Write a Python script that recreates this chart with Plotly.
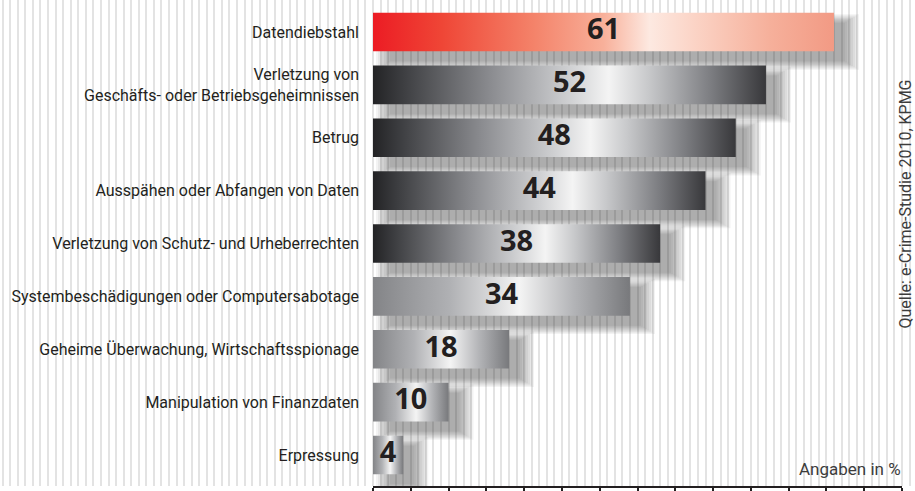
import plotly.graph_objects as go

# ---------------- data ----------------
categories = [
    "Datendiebstahl",
    "Verletzung von<br>Geschäfts- oder Betriebsgeheimnissen",
    "Betrug",
    "Ausspähen oder Abfangen von Daten",
    "Verletzung von Schutz- und Urheberrechten",
    "Systembeschädigungen oder Computersabotage",
    "Geheime Überwachung, Wirtschaftsspionage",
    "Manipulation von Finanzdaten",
    "Erpressung",
]
values = [61, 52, 48, 44, 38, 34, 18, 10, 4]
ruler_ticks = [0, 5, 10, 15, 20, 25, 30, 35, 40, 45, 50, 55, 60, 65, 70]
source_text = "Quelle: e-Crime-Studie 2010, KPMG"
unit_text = "Angaben in %"

# ---------------- geometry / style ----------------
W, H = 915, 491
X0_PX = 373.0          # pixel of value 0
PX_PER_UNIT = 7.557    # pixels per percent
BOTTOM_PX = 5          # space under ruler line
PLOT_H = H - BOTTOM_PX
ROW0_PX, ROW_STEP = 32.0, 52.875
x_range = [-X0_PX / PX_PER_UNIT, (W - X0_PX) / PX_PER_UNIT]
y_range = [(PLOT_H - ROW0_PX) / ROW_STEP, -ROW0_PX / ROW_STEP]
HALF = 0.365

LABEL_FONT = "Roboto, Arial, sans-serif"
VALUE_FONT = "Open Sans, Arial, sans-serif"
TXT = "#231f20"

red_scale = [[0, "#ec1c24"], [0.15, "#ef4636"], [0.35, "#f4836a"], [0.5, "#f8b09a"],
             [0.6, "#fde9e1"], [0.7, "#fbd3c5"], [0.86, "#f6b09b"], [1, "#f29a84"]]
dark_scale = [[0, "#232325"], [0.07, "#3b3c3f"], [0.3, "#8b8c90"], [0.5, "#cfd0d2"],
              [0.6, "#f4f4f4"], [0.7, "#c8c9cb"], [0.86, "#7c7d81"], [1, "#38383b"]]
light_scale = [[0, "#838487"], [0.3, "#b0b1b4"], [0.57, "#f4f4f4"], [0.78, "#b3b4b7"],
               [1, "#78797c"]]


def scale_for(i):
    if i == 0:
        return red_scale
    if i <= 4:
        return dark_scale
    return light_scale


fig = go.Figure()

# shadows (layered translucent rectangles to imitate blur)
dx_u = 11 / PX_PER_UNIT
dy_u = 10 / ROW_STEP
for i, v in enumerate(values):
    for r in [0, 2, 4, 6, 8, 10, 12, 14]:
        rx = r / PX_PER_UNIT
        ry = r / ROW_STEP
        x0, x1 = dx_u - rx + 0.8, v + dx_u + rx
        y0, y1 = i - HALF + dy_u - ry * 0.6, i + HALF + dy_u + ry * 0.6
        fig.add_trace(go.Scatter(
            x=[x0, x1, x1, x0, x0], y=[y0, y0, y1, y1, y0],
            fill="toself", mode="none", fillcolor="rgba(35,35,35,0.055)",
            hoverinfo="skip", showlegend=False))

# bars with horizontal gradients
for i, v in enumerate(values):
    fig.add_trace(go.Scatter(
        x=[0, v, v, 0, 0], y=[i - HALF, i - HALF, i + HALF, i + HALF, i - HALF],
        fill="toself", mode="none",
        fillgradient=dict(type="horizontal", colorscale=scale_for(i)),
        hoverinfo="skip", showlegend=False, name=categories[i]))

# value labels
fig.add_trace(go.Scatter(
    x=[v / 2 for v in values], y=list(range(len(values))),
    text=[str(v) for v in values], mode="text", textposition="middle center",
    textfont=dict(family=VALUE_FONT, size=29, color=TXT, weight="bold"),
    hoverinfo="skip", showlegend=False))

# ruler axis carrier
fig.add_trace(go.Scatter(x=[ruler_ticks[0]], y=[0], xaxis="x2", yaxis="y",
                         mode="markers", marker=dict(opacity=0),
                         hoverinfo="skip", showlegend=False))

fig.update_layout(
    width=W, height=H,
    margin=dict(l=0, r=0, t=0, b=0, autoexpand=False),
    paper_bgcolor="white", plot_bgcolor="rgba(0,0,0,0)",
    showlegend=False,
    xaxis=dict(domain=[0, 1], range=x_range, showgrid=True, gridcolor="#e3e3e3",
               gridwidth=2, dtick=1, tick0=0, showticklabels=False, ticks="",
               zeroline=False, showline=False, fixedrange=True, automargin=False),
    xaxis2=dict(domain=[X0_PX / W, (X0_PX + 70 * PX_PER_UNIT) / W],
                range=[ruler_ticks[0], ruler_ticks[-1]], anchor="y",
                tickvals=ruler_ticks, ticks="outside", ticklen=6, tickwidth=1.5,
                tickcolor=TXT, showline=True, linecolor=TXT, linewidth=2,
                showticklabels=False, showgrid=False, zeroline=False, automargin=False),
    yaxis=dict(domain=[BOTTOM_PX / H, 1], range=y_range, anchor="free",
               position=X0_PX / W, tickvals=list(range(len(categories))),
               ticktext=categories, ticks="", showgrid=False, zeroline=False,
               showline=False, ticklabelstandoff=14, automargin=False,
               tickfont=dict(family=LABEL_FONT, size=16, color=TXT)),
    annotations=[
        dict(text=unit_text, xref="paper", yref="paper", x=903 / W, y=1 - 469 / H,
             xanchor="right", yanchor="middle", showarrow=False,
             font=dict(family=LABEL_FONT, size=17, color="#3c3c3c")),
        dict(text=source_text, xref="paper", yref="paper", x=894 / W, y=1 - 204 / H,
             xanchor="left", yanchor="middle", showarrow=False, textangle=-90,
             font=dict(family=LABEL_FONT, size=16, color="#3c3c3c")),
    ],
)

fig.write_html("out.html", config={"displayModeBar": False},
               post_script="document.body.style.margin='0px';")
